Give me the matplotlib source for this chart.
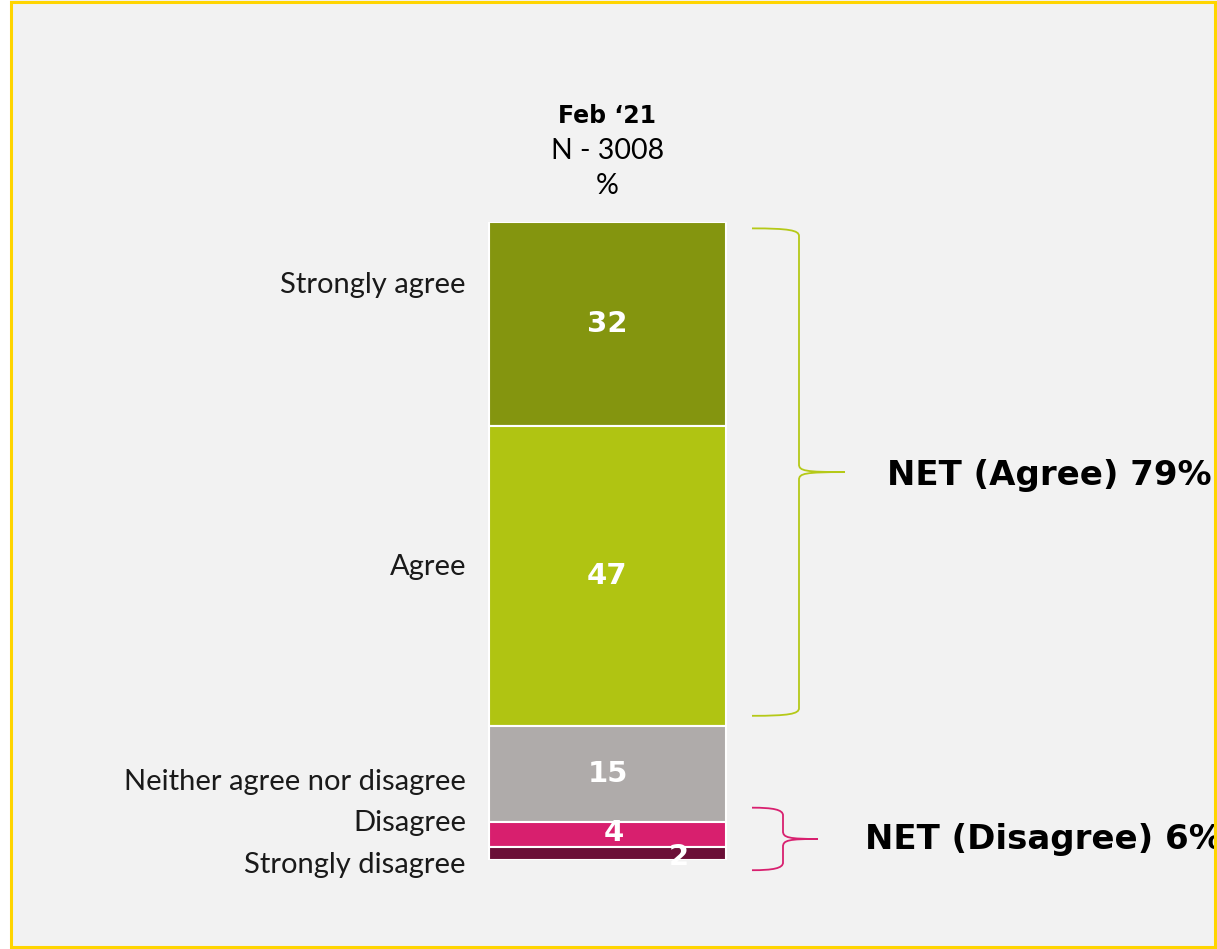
import matplotlib.pyplot as plt
from matplotlib.patches import Rectangle, PathPatch
from matplotlib.path import Path
import numpy as np

# survey answers, top of the stack first
categories = ["Strongly agree", "Agree", "Neither agree nor disagree",
              "Disagree", "Strongly disagree"]
values = [32, 47, 15, 4, 2]
colors = ["#84950f", "#b0c412", "#afabaa", "#d81f6e", "#6b0f37"]

period = "Feb \u201821"
sample = "N - 3008"
net_labels = ["NET (Agree) 79%", "NET (Disagree) 6%"]
net_colors = ["#b5c918", "#d8206f"]

W, H = 1217, 949


def brace(ax, x0, top, bottom, width, tip, mid, color):
    # curly bracket opening to the left, pointing right at y = mid
    xv = x0 + width
    verts = [
        (x0, top), (xv - 10, top), (xv, top + 0.3), (xv, top + 1.2),
        (xv, mid - 1.2),
        (xv, mid - 0.2), (xv + 6, mid), (tip, mid),
        (xv + 6, mid), (xv, mid + 0.2), (xv, mid + 1.2),
        (xv, bottom - 1.2),
        (xv, bottom - 0.3), (xv - 10, bottom), (x0, bottom),
    ]
    codes = [Path.MOVETO, Path.CURVE4, Path.CURVE4, Path.CURVE4,
             Path.LINETO,
             Path.CURVE4, Path.CURVE4, Path.CURVE4,
             Path.CURVE4, Path.CURVE4, Path.CURVE4,
             Path.LINETO,
             Path.CURVE4, Path.CURVE4, Path.CURVE4]
    ax.add_patch(PathPatch(Path(verts, codes), fill=False, edgecolor=color,
                           lw=1.3, clip_on=False))


def main():
    fig = plt.figure(figsize=(W / 100, H / 100), dpi=100)
    fig.patch.set_facecolor("white")

    # panel background
    fig.add_artist(Rectangle((10 / W, 0), 1, 1, transform=fig.transFigure,
                             facecolor="#f2f2f2", edgecolor="none", zorder=0))

    # x in pixels, y in percent (0 at the top of the bar)
    bar_top, bar_bottom = 222, 860
    ax = fig.add_axes([0, (H - bar_bottom) / H, 1, (bar_bottom - bar_top) / H])
    ax.set_xlim(0, W)
    ax.set_ylim(100, 0)
    ax.axis("off")

    bottoms = np.concatenate([[0], np.cumsum(values)[:-1]])
    bx, bw = 607.5, 237
    ax.bar(bx, values, bottom=bottoms, width=bw, color=colors,
           edgecolor="white", linewidth=1.5)

    # value labels inside the segments
    label_x = [bx, bx, bx, bx + 6, bx + 71]
    label_dy = [0, 0, 0, -0.3, 0.5]
    for v, b, lx, dy in zip(values, bottoms, label_x, label_dy):
        ax.text(lx, b + v / 2 + dy, str(v), ha="center", va="center",
                color="white", fontsize=21, fontweight="bold",
                family="DejaVu Sans", clip_on=False)

    # category names left of the bar
    cat_y = [9.8, 54, 87.8, 94.2, 100.8]
    for name, y in zip(categories, cat_y):
        ax.text(466, y, name, ha="right", va="center", fontsize=21,
                family="Lato", color="#1a1a1a", clip_on=False)

    # column header
    ax.text(bx, -16.6, period, ha="center", va="center", fontsize=17,
            fontweight="bold", family="DejaVu Sans", clip_on=False)
    ax.text(bx, -11.2, sample, ha="center", va="center", fontsize=20.5,
            family="Lato", clip_on=False)
    ax.text(bx, -5.6, "%", ha="center", va="center", fontsize=20.5,
            family="Lato", clip_on=False)

    # NET brackets
    brace(ax, 752, 1.0, 77.4, 47, 845, 39.2, net_colors[0])
    brace(ax, 752, 91.8, 101.6, 31, 818, 96.7, net_colors[1])
    ax.text(887, 39.8, net_labels[0], ha="left", va="center", fontsize=24.5,
            fontweight="bold", family="DejaVu Sans", clip_on=False)
    ax.text(865, 96.8, net_labels[1], ha="left", va="center", fontsize=24.5,
            fontweight="bold", family="DejaVu Sans", clip_on=False)

    # yellow frame drawn on top so the clipped labels end at it
    fig.add_artist(Rectangle((11 / W, 2 / H), (1215 - 11) / W, (947 - 2) / H,
                             transform=fig.transFigure, facecolor="none",
                             edgecolor="#ffd500", lw=2.2, zorder=10))

    fig.savefig("out.png", dpi=100)


if __name__ == '__main__':
    main()
